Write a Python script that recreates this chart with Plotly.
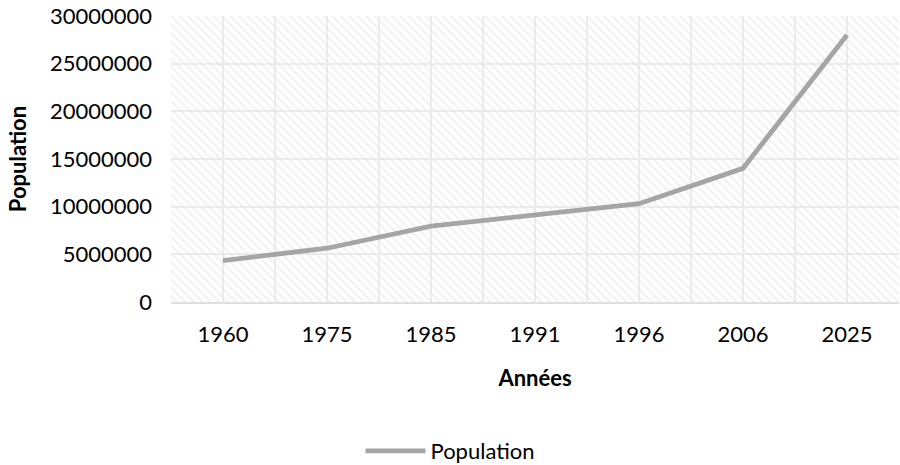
import plotly.graph_objects as go

years = ["1960", "1975", "1985", "1991", "1996", "2006", "2025"]
population = [4350000, 5640000, 7960000, 9190000, 10310000, 14020000, 28000000]
y_ticks = [0, 5000000, 10000000, 15000000, 20000000, 25000000, 30000000]

x_idx = list(range(len(years)))
x_min, x_max = -0.5, len(years) - 0.5
y_min, y_max = 0, 30000000

FONT = "Lato"
fig = go.Figure()

# hatched plot-area background
fig.add_trace(go.Scatter(
    x=[x_min, x_max, x_max, x_min, x_min],
    y=[y_min, y_min, y_max, y_max, y_min],
    mode="lines", line=dict(width=0), fill="toself",
    fillcolor="rgba(0,0,0,0)",
    fillpattern=dict(shape="\\", fgcolor="#e4e4e4", bgcolor="rgba(255,255,255,0)",
                     size=6, solidity=0.35),
    hoverinfo="skip", showlegend=False,
))

fig.add_trace(go.Scatter(
    x=x_idx, y=population, mode="lines", name="Population",
    line=dict(color="#a5a5a5", width=4.8),
))

fig.update_layout(
    width=900, height=465,
    margin=dict(l=171, r=1, t=16, b=163, autoexpand=False),
    paper_bgcolor="white", plot_bgcolor="white",
    font=dict(family=FONT, size=22, color="#000000"),
    showlegend=True,
    legend=dict(orientation="h", xref="container", yref="container",
                x=0.5, xanchor="center", y=14 / 465, yanchor="middle",
                font=dict(family=FONT, size=22, color="#000000"),
                itemwidth=60),
    xaxis=dict(
        automargin=False,
        range=[x_min, x_max], tickmode="array", tickvals=x_idx, ticktext=years,
        showgrid=True, gridcolor="#ececec", gridwidth=1.5,
        minor=dict(tickmode="array", tickvals=[i + 0.5 for i in x_idx[:-1]],
                   showgrid=True, gridcolor="#ececec", gridwidth=1.5),
        zeroline=False, showline=True, linecolor="#e0e0e0", linewidth=1.5,
        ticks="", ticklabelstandoff=12,
        title=dict(text="<b>Années</b>", font=dict(family=FONT, size=22), standoff=24),
    ),
    yaxis=dict(
        automargin=False,
        range=[y_min, y_max], tickmode="array", tickvals=y_ticks,
        ticktext=[str(v) for v in y_ticks],
        showgrid=True, gridcolor="#ececec", gridwidth=1.5,
        zeroline=False, showline=False, ticks="", ticklabelstandoff=18,
        title=dict(text="<b>Population</b>", font=dict(family=FONT, size=22), standoff=17),
    ),
)

fig.write_html("out.html", config={"displayModeBar": False},
               post_script="document.body.style.margin='0';document.body.style.overflow='hidden';")
